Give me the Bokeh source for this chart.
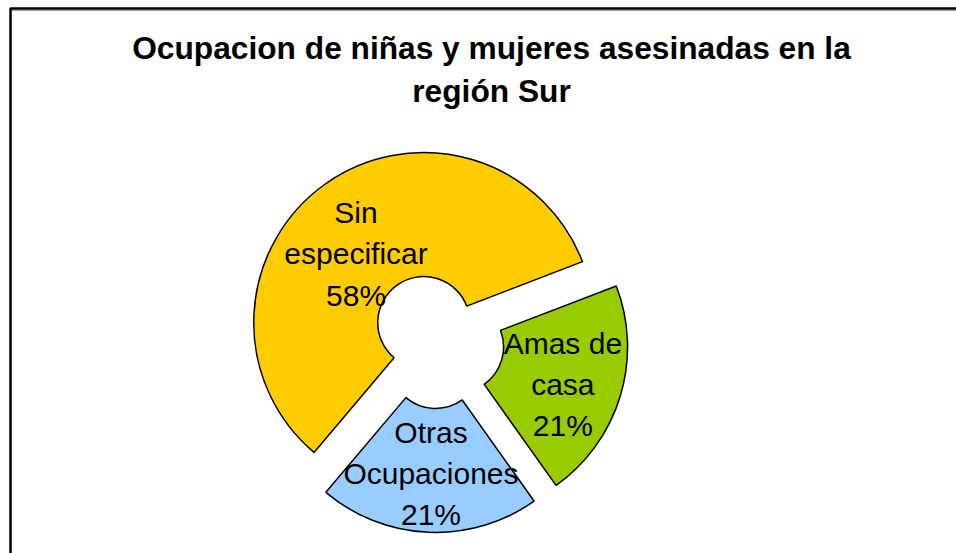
import math
from bokeh.plotting import figure
from bokeh.models import Range1d, ColumnDataSource
from bokeh.core.properties import value
from bokeh.embed import file_html
from bokeh.resources import INLINE

# ---- data ----
categories = ["Amas de casa", "Otras Ocupaciones", "Sin especificar"]
label_lines = ["Amas de\ncasa", "Otras\nOcupaciones", "Sin\nespecificar"]
percentages = [21, 21, 58]
title_text = "Ocupacion de niñas y mujeres asesinadas en la\nregión Sur"

# ---- style ----
colors = ["#99CC00", "#99CCFF", "#FFCC00"]
W, H = 956, 553
cx, cy = 436, 213          # pie centre (px in data units)
r_out, r_in = 170, 46
explode = 22
first_angle_deg = 21.0     # boundary where first slice starts, clockwise
label_r = 110
label_nudge = [(0, -6), (0, -1), (-4, -21)]
frame_left, frame_top = 10, 545

p = figure(width=W, height=H, x_range=Range1d(0, W), y_range=Range1d(0, H),
           output_backend="svg", toolbar_location=None, min_border=0,
           x_axis_location=None, y_axis_location=None,
           outline_line_color=None)
p.grid.visible = False
p.background_fill_color = "white"
p.border_fill_color = "white"

total = sum(percentages)
start = math.radians(first_angle_deg)
xs, ys, sa, ea, lx, ly, ltxt = [], [], [], [], [], [], []
for i, v in enumerate(percentages):
    sweep = 2 * math.pi * v / total
    end = start - sweep
    mid = (start + end) / 2
    sx = cx + explode * math.cos(mid)
    sy = cy + explode * math.sin(mid)
    xs.append(sx); ys.append(sy); sa.append(start); ea.append(end)
    lx.append(sx + label_r * math.cos(mid) + label_nudge[i][0])
    ly.append(sy + label_r * math.sin(mid) + label_nudge[i][1])
    ltxt.append(f"{label_lines[i]}\n{round(100 * v / total)}%")
    start = end

src = ColumnDataSource(dict(x=xs, y=ys, start=sa, end=ea, color=colors, cat=categories))
p.annular_wedge(x="x", y="y", inner_radius=r_in, outer_radius=r_out,
                start_angle="start", end_angle="end", direction="clock",
                fill_color="color", line_color="black", line_width=1.5, source=src)

p.text(x=lx, y=ly, text=ltxt, text_font=value("Liberation Sans"),
       text_font_size="30px", text_align="center", text_baseline="middle",
       text_line_height=1.25, text_color="black")

p.text(x=[491], y=[484], text=[title_text], text_font=value("Liberation Sans"),
       text_font_style="bold", text_font_size="31.7px", text_align="center",
       text_baseline="middle", text_line_height=1.2, text_color="black")

# chart frame (top and left edges visible)
p.line(x=[frame_left + 1, W], y=[frame_top - 2, frame_top - 2], line_color="#999999", line_width=1)
p.line(x=[frame_left, frame_left, W], y=[0, frame_top, frame_top],
       line_color="black", line_width=2.5)

open("out.html", "w").write(file_html(p, INLINE))
